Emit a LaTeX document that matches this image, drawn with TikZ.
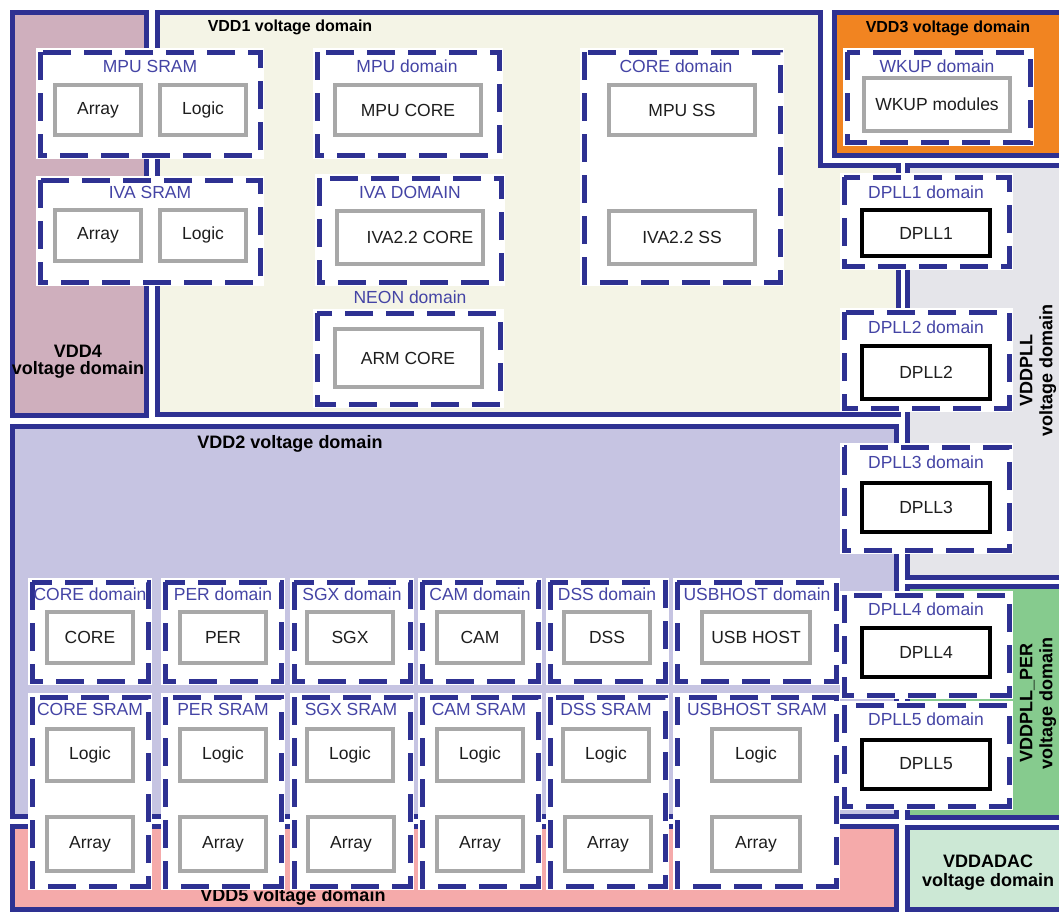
\documentclass[tikz,border=0pt]{standalone}
\usepackage{fontspec}
\setmainfont{Liberation Sans}
\usepackage{tikz}
\definecolor{navy}{RGB}{46,49,146}
\definecolor{lblblue}{RGB}{68,68,165}
\definecolor{boxgrey}{RGB}{168,168,168}
\definecolor{txtc}{RGB}{30,30,30}
\definecolor{vddfour}{RGB}{207,175,189}
\definecolor{vddone}{RGB}{244,244,230}
\definecolor{vddthree}{RGB}{241,132,33}
\definecolor{vddpll}{RGB}{229,229,234}
\definecolor{vddtwo}{RGB}{198,196,226}
\definecolor{vddfive}{RGB}{245,170,170}
\definecolor{vddper}{RGB}{134,203,142}
\definecolor{vdddac}{RGB}{204,232,213}
\newcommand\boxfont{\fontsize{17.5}{19}\selectfont}
\newcommand\vddfont{\fontsize{18}{18}\selectfont\bfseries}
\newcommand\vddsmall{\fontsize{16}{18}\selectfont\bfseries}

\begin{document}
\begin{tikzpicture}[x=1pt,y=-1pt,
  vdom/.style={draw=navy,line width=5},
  pdom/.style={draw=navy,line width=5,fill=white,dash pattern=on 28pt off 13pt,
    preaction={draw=white,solid,line width=8}},
  gbox/.style={draw=boxgrey,line width=4,fill=white,inner sep=0pt,text=txtc,font=\boxfont},
  kbox/.style={draw=black,line width=4,fill=white,inner sep=0pt,text=txtc,font=\boxfont},
  plbl/.style={text=lblblue,font=\boxfont,inner sep=0pt},
  vlbl/.style={text=black,font=\vddfont,inner sep=0pt,align=center}]
  \clip (0,0) rectangle (1059,911);
  % voltage domains
  \filldraw[vdom,fill=vddfour] (12,12) rectangle (146,415);
  \filldraw[vdom,fill=vddone] (157,12) -- (820,12) -- (820,165) -- (898,165)
    -- (898,414) -- (157,414) -- cycle;
  \filldraw[vdom,fill=vddthree] (834,12) rectangle (1070,155);
  \filldraw[vdom,fill=vddpll] (907,165) rectangle (1070,577);
  \filldraw[vdom,fill=vddtwo] (12,426) rectangle (896,816);
  \filldraw[vdom,fill=vddper] (907,586) rectangle (1070,817);
  \filldraw[vdom,fill=vddfive] (12,826) rectangle (896,909);
  \filldraw[vdom,fill=vdddac] (907,827) rectangle (1070,909);
  \node[vlbl,font=\vddsmall] (vdd1) at (290,27) {VDD1 voltage domain};
  \node[vlbl,font=\vddsmall] (vdd3) at (948,28) {VDD3 voltage domain};
  \node[vlbl,font={\fontsize{18}{17}\selectfont\bfseries}] (vdd4) at (78,362) {VDD4\\voltage domain};
  \node[vlbl] (vdd2) at (290,444) {VDD2 voltage domain};
  \node[vlbl] (vdd5) at (293,897) {VDD5 voltage domain};
  \node[vlbl,font={\fontsize{18}{19}\selectfont\bfseries}] (vdddac) at (988,873) {VDDADAC\\voltage domain};
  \node[vlbl,rotate=90,font={\fontsize{18}{20}\selectfont\bfseries}] (vddpll) at (1038,370) {VDDPLL\\voltage domain};
  \node[vlbl,rotate=90,font={\fontsize{18}{20}\selectfont\bfseries}] (vddper) at (1038,703) {VDDPLL\_PER\\voltage domain};
  % VDD1 power domains
  \draw[pdom] (40,52) rectangle (260,155);
  \node[plbl] (mpusram) at (150,66) {MPU SRAM};
  \node[gbox,minimum width=86,minimum height=50] (mpuarr) at (98,110) {Array};
  \node[gbox,minimum width=86,minimum height=50] (mpulog) at (203,110) {Logic};
  \draw[pdom] (40,180) rectangle (260,282);
  \node[plbl] (ivasram) at (150,192) {IVA SRAM};
  \node[gbox,minimum width=86,minimum height=51] (ivaarr) at (98,235) {Array};
  \node[gbox,minimum width=86,minimum height=51] (ivalog) at (203,235) {Logic};
  \draw[pdom] (317,52) rectangle (499,155);
  \node[plbl] (mpudom) at (407,66) {MPU domain};
  \node[gbox,minimum width=146,minimum height=50] (mpucore) at (408,110) {MPU CORE};
  \draw[pdom] (319,178) rectangle (501,282);
  \node[plbl] (ivadom) at (410,192) {IVA DOMAIN};
  \node[gbox,minimum width=146,minimum height=53] (ivacore) at (410,237) {\hspace*{20pt}IVA2.2 CORE};
  \node[plbl] (neondom) at (410,297) {NEON domain};
  \draw[pdom] (317,313) rectangle (500,404);
  \node[gbox,minimum width=147,minimum height=58] (armcore) at (408,358) {ARM CORE};
  \draw[pdom] (584,52) rectangle (780,282);
  \node[plbl] (coretop) at (676,66) {CORE domain};
  \node[gbox,minimum width=146,minimum height=50] (mpuss) at (682,110) {MPU SS};
  \node[gbox,minimum width=146,minimum height=53] (ivass) at (682,237) {IVA2.2 SS};
  % VDD3
  \draw[pdom] (847,52) rectangle (1030,142);
  \node[plbl] (wkupdom) at (937,66) {WKUP domain};
  \node[gbox,minimum width=146,minimum height=53] (wkupmod) at (937,104) {WKUP modules};
  % DPLL domains
  \draw[pdom] (844,177) rectangle (1009,266);
  \node[plbl] (dpll1dom) at (926,192) {DPLL1 domain};
  \node[kbox,minimum width=128,minimum height=46] (dpll1) at (926,233) {DPLL1};
  \draw[pdom] (844,312) rectangle (1009,408);
  \node[plbl] (dpll2dom) at (926,327) {DPLL2 domain};
  \node[kbox,minimum width=128,minimum height=53] (dpll2) at (926,372) {DPLL2};
  \draw[pdom] (844,447) rectangle (1009,550);
  \node[plbl] (dpll3dom) at (926,462) {DPLL3 domain};
  \node[kbox,minimum width=128,minimum height=49] (dpll3) at (926,507) {DPLL3};
  \draw[pdom] (844,595) rectangle (1009,695);
  \node[plbl] (dpll4dom) at (926,609) {DPLL4 domain};
  \node[kbox,minimum width=128,minimum height=49] (dpll4) at (926,652) {DPLL4};
  \draw[pdom] (844,705) rectangle (1009,806);
  \node[plbl] (dpll5dom) at (926,719) {DPLL5 domain};
  \node[kbox,minimum width=128,minimum height=49] (dpll5) at (926,764) {DPLL5};
  % VDD2 power domains
  \draw[pdom] (32,582) rectangle (148,681);
  \node[plbl] (coredom) at (90,594) {CORE domain};
  \node[gbox,minimum width=86,minimum height=51] (core) at (90,637) {CORE};
  \draw[pdom] (165,582) rectangle (281,681);
  \node[plbl] (perdom) at (223,594) {PER domain};
  \node[gbox,minimum width=86,minimum height=51] (per) at (223,637) {PER};
  \draw[pdom] (294,582) rectangle (410,681);
  \node[plbl] (sgxdom) at (352,594) {SGX domain};
  \node[gbox,minimum width=86,minimum height=51] (sgx) at (350,637) {SGX};
  \draw[pdom] (422,582) rectangle (538,681);
  \node[plbl] (camdom) at (480,594) {CAM domain};
  \node[gbox,minimum width=86,minimum height=51] (cam) at (480,637) {CAM};
  \draw[pdom] (550,582) rectangle (665,681);
  \node[plbl] (dssdom) at (607,594) {DSS domain};
  \node[gbox,minimum width=86,minimum height=51] (dss) at (607,637) {DSS};
  \draw[pdom] (677,582) rectangle (836,681);
  \node[plbl] (usbdom) at (757,594) {USBHOST domain};
  \node[gbox,minimum width=108,minimum height=51] (usb) at (756,637) {USB HOST};
  % SRAM domains
  \draw[pdom] (32,697) rectangle (148,886);
  \node[plbl] (coresram) at (90,709) {CORE SRAM};
  \node[gbox,minimum width=86,minimum height=52] (corelog) at (90,755) {Logic};
  \node[gbox,minimum width=86,minimum height=54] (corearr) at (90,844) {Array};
  \draw[pdom] (165,697) rectangle (281,886);
  \node[plbl] (persram) at (223,709) {PER SRAM};
  \node[gbox,minimum width=86,minimum height=52] (perlog) at (223,755) {Logic};
  \node[gbox,minimum width=86,minimum height=54] (perarr) at (223,844) {Array};
  \draw[pdom] (294,697) rectangle (410,886);
  \node[plbl] (sgxsram) at (351,709) {SGX SRAM};
  \node[gbox,minimum width=86,minimum height=52] (sgxlog) at (350,755) {Logic};
  \node[gbox,minimum width=86,minimum height=54] (sgxarr) at (351,844) {Array};
  \draw[pdom] (422,697) rectangle (538,886);
  \node[plbl] (camsram) at (479,709) {CAM SRAM};
  \node[gbox,minimum width=86,minimum height=52] (camlog) at (480,755) {Logic};
  \node[gbox,minimum width=86,minimum height=54] (camarr) at (480,844) {Array};
  \draw[pdom] (550,697) rectangle (665,886);
  \node[plbl] (dsssram) at (606,709) {DSS SRAM};
  \node[gbox,minimum width=86,minimum height=52] (dsslog) at (606,755) {Logic};
  \node[gbox,minimum width=86,minimum height=54] (dssarr) at (608,844) {Array};
  \draw[pdom] (677,697) rectangle (836,886);
  \node[plbl] (usbsram) at (757,709) {USBHOST SRAM};
  \node[gbox,minimum width=88,minimum height=52] (usblog) at (756,755) {Logic};
  \node[gbox,minimum width=88,minimum height=54] (usbarr) at (756,844) {Array};
\end{tikzpicture}
\end{document}
